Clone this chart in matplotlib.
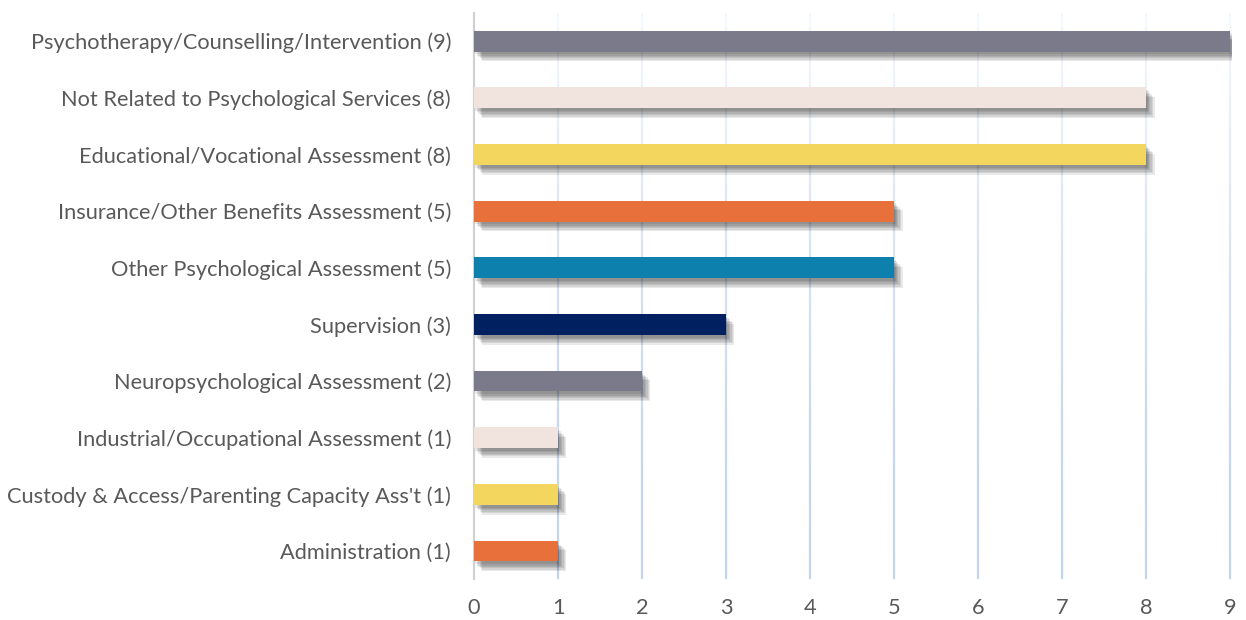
import matplotlib
matplotlib.use("Agg")
import matplotlib.pyplot as plt
import matplotlib.patheffects as pe
from matplotlib.collections import LineCollection

categories = [
    "Administration (1)",
    "Custody & Access/Parenting Capacity Ass't (1)",
    "Industrial/Occupational Assessment (1)",
    "Neuropsychological Assessment (2)",
    "Supervision (3)",
    "Other Psychological Assessment (5)",
    "Insurance/Other Benefits Assessment (5)",
    "Educational/Vocational Assessment (8)",
    "Not Related to Psychological Services (8)",
    "Psychotherapy/Counselling/Intervention (9)",
]
values = [1, 1, 1, 2, 3, 5, 5, 8, 8, 9]
colors = ["#e8703a", "#f2d65e", "#f1e4df", "#7b7a8a", "#00205f",
          "#0e80ae", "#e8703a", "#f2d65e", "#f1e4df", "#7b7a8a"]
ticks = list(range(10))

plt.rcParams["font.family"] = ["Lato", "DejaVu Sans"]

fig = plt.figure(figsize=(12.46, 6.2), dpi=100)
ax = fig.add_axes([0.3804, 0.0656, 0.6084, 0.9139])

ymin, ymax = -0.5, len(categories) - 0.5

# soft drop shadow: several faint offset copies
shadow = [pe.SimplePatchShadow(offset=(o, -o - 1), shadow_rgbFace="#000000", alpha=0.085)
          for o in (1, 2, 3, 4, 5, 6)] + [pe.Normal()]
bars = ax.barh(range(len(categories)), values, height=0.37, color=colors, zorder=3)
for b in bars:
    b.set_path_effects(shadow)

# vertical gridlines fading out toward the top
nseg = 40
for t in ticks[1:]:
    segs, cols = [], []
    for i in range(nseg):
        y0 = ymin + (ymax - ymin) * i / nseg
        y1 = ymin + (ymax - ymin) * (i + 1) / nseg
        segs.append([(t, y0), (t, y1)])
        a = 0.85 - 0.75 * (i / nseg) ** 1.5
        cols.append((0.72, 0.80, 0.91, a))
    ax.add_collection(LineCollection(segs, colors=cols, linewidths=1.6, zorder=1))

ax.set_xlim(0, 9.02)
ax.set_ylim(ymin, ymax)
ax.set_xticks(ticks)
ax.set_yticks(range(len(categories)))
ax.set_yticklabels(categories)
for s in ["top", "right", "bottom"]:
    ax.spines[s].set_visible(False)
ax.spines["left"].set_color("#d0d0d0")
ax.spines["left"].set_linewidth(1.5)
ax.tick_params(axis="both", length=0, labelsize=15.7, labelcolor="#595959")
ax.tick_params(axis="x", pad=13.5)
ax.tick_params(axis="y", pad=16.5)

fig.savefig("out.png", dpi=100)
plt.close(fig)
